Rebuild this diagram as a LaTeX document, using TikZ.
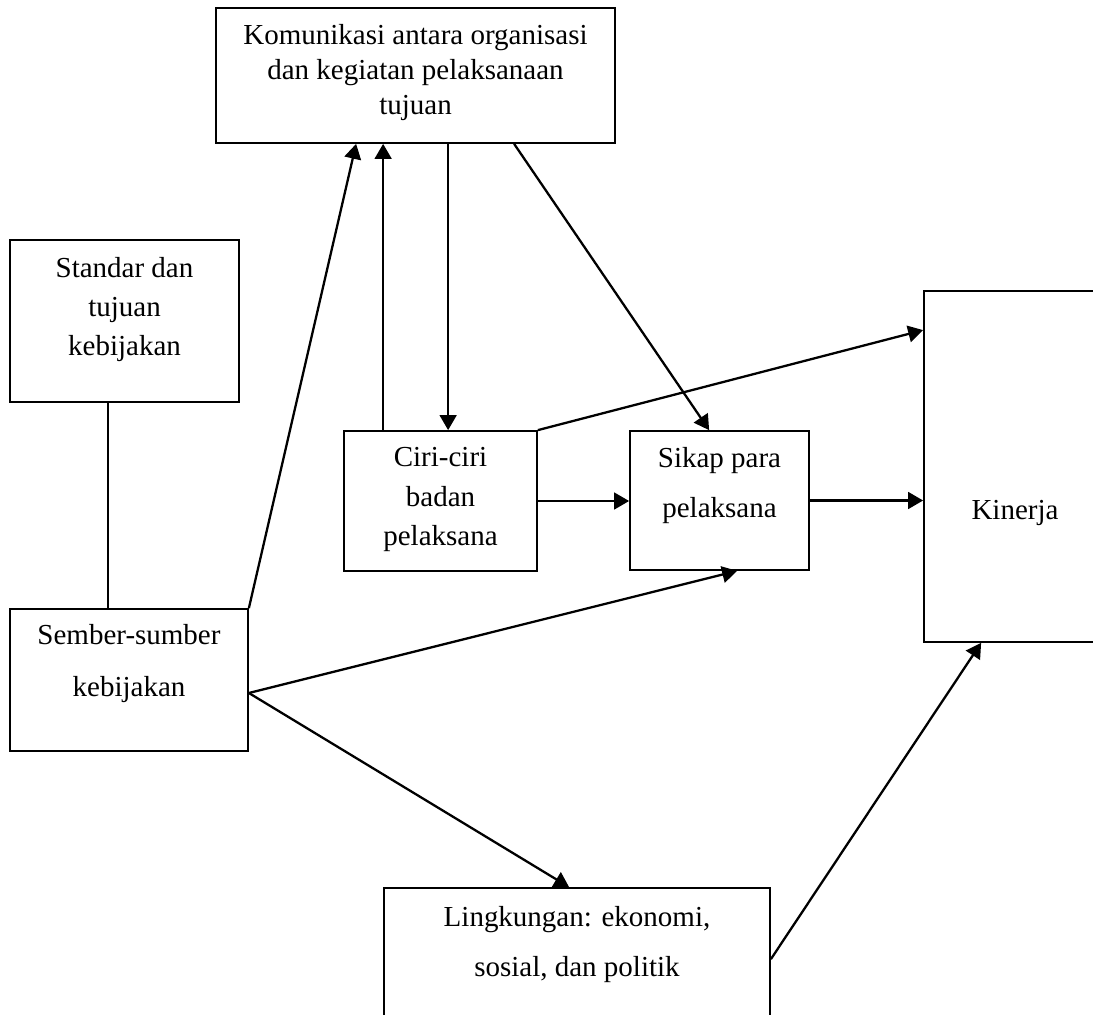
\documentclass[tikz,border=0pt]{standalone}
\usepackage{fontspec}
\setmainfont{Liberation Serif}
\usetikzlibrary{arrows.meta, positioning, calc}

\begin{document}
\begin{tikzpicture}[
        box/.style={draw, line width=1pt, inner sep=0pt},
        txt/.style={align=center, inner sep=0pt, font=\fontsize{16.5}{20}\selectfont},
        arr/.style={-{Triangle[length=8.5pt, width=9.5pt]}, line width=1.3pt}]
    \useasboundingbox (0,0) rectangle (21.86,20.28);
    \clip (0,0) rectangle (21.86,20.28);
    % boxes
    \node[box, minimum width=7.98cm, minimum height=2.70cm] (kom) at (8.31,18.77) {};
    \node[box, minimum width=4.58cm, minimum height=3.24cm] (std) at (2.49,13.86) {};
    \node[box, minimum width=4.76cm, minimum height=2.84cm] (sem) at (2.58,6.68) {};
    \node[box, minimum width=3.86cm, minimum height=2.80cm] (ciri) at (8.81,10.26) {};
    \node[box, minimum width=3.58cm, minimum height=2.78cm] (sikap) at (14.39,10.27) {};
    \node[box, minimum width=3.64cm, minimum height=7.02cm] (kin) at (20.30,10.95) {};
    \node[box, minimum width=7.72cm, minimum height=3.40cm] (ling) at (11.54,0.82) {};
    % texts
    \node[txt, anchor=north] (komtxt) at ([yshift=-0.34cm]kom.north) {Komunikasi antara organisasi\\dan kegiatan pelaksanaan\\tujuan};
    \node[txt, anchor=north] (stdtxt) at ([yshift=-0.36cm]std.north) {Standar dan\\[2.2pt]tujuan\\[2.2pt]kebijakan};
    \node[txt, anchor=north] (semtxt) at ([yshift=-0.32cm]sem.north) {Sember-sumber\\[9.5pt]kebijakan};
    \node[txt, anchor=north] (ciritxt) at ([yshift=-0.34cm]ciri.north) {Ciri-ciri\\[2.5pt]badan\\[2.5pt]pelaksana};
    \node[txt, anchor=north] (sikaptxt) at ([yshift=-0.34cm]sikap.north) {Sikap para\\[8.5pt]pelaksana};
    \node[txt] (kintxt) at ([yshift=-0.93cm]kin.center) {Kinerja};
    \node[txt, anchor=north] (lingtxt) at ([yshift=-0.38cm]ling.north) {Lingkungan: ekonomi,\\[8.5pt]sosial, dan politik};
    % connectors
    \coordinate (stdfoot) at ([xshift=1.98cm]std.south west);
    \coordinate (ciriup) at ([xshift=0.80cm]ciri.north west);
    \coordinate (ciridown) at ([xshift=2.10cm]ciri.north west);
    \coordinate (semout) at ([yshift=-0.26cm]sem.east);
    \coordinate (lingout) at ([yshift=-1.44cm]ling.north east);
    \draw[line width=1pt] (stdfoot) -- (stdfoot |- sem.north);
    \draw[arr] (sem.north east) -- ([xshift=2.82cm]kom.south west);
    \draw[arr] (ciriup) -- (ciriup |- kom.south);
    \draw[arr] (ciridown |- kom.south) -- (ciridown);
    \draw[arr] ([xshift=5.98cm]kom.south west) -- ([xshift=1.60cm]sikap.north west);
    \draw[arr] (ciri.north east) -- ([yshift=-0.80cm]kin.north west);
    \draw[arr] (ciri.east) -- (ciri.east -| sikap.west);
    \draw[arr] (sikap.east) -- (sikap.east -| kin.west);
    \draw[arr] (semout) -- ([xshift=2.16cm]sikap.south west);
    \draw[arr] (semout) -- ([xshift=3.72cm]ling.north west);
    \draw[arr] (lingout) -- ([xshift=1.16cm]kin.south west);
\end{tikzpicture}
\end{document}
